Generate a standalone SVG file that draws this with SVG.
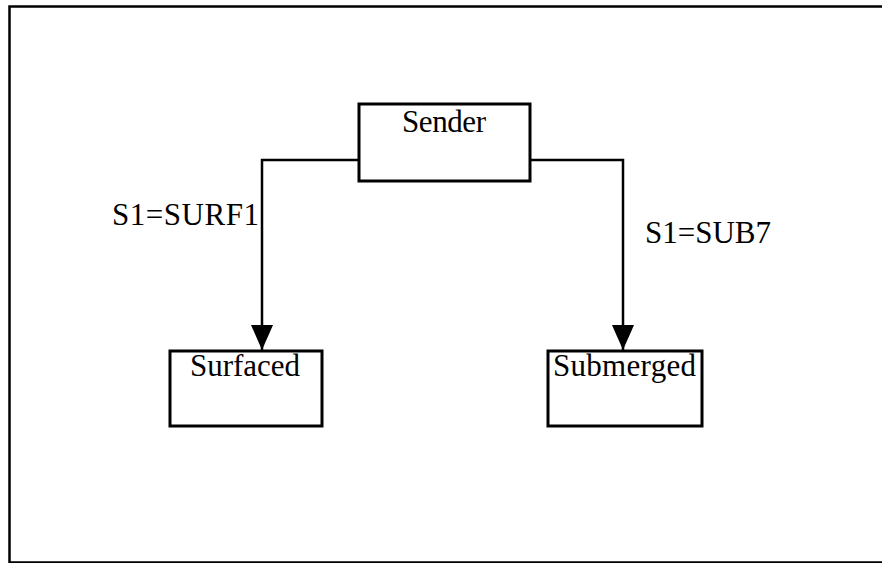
<svg xmlns="http://www.w3.org/2000/svg" width="882" height="563" viewBox="0 0 882 563">
  <defs>
    <style>
      .frame { fill: #ffffff; stroke: #000000; stroke-width: 2.5; }
      .box { fill: #ffffff; stroke: #000000; stroke-width: 3; }
      .wire { fill: none; stroke: #000000; stroke-width: 2.5; }
      .lbl { font-family: "Liberation Serif", "Times New Roman", serif; font-size: 31px; fill: #000000; }
    </style>
    <marker id="arrow" viewBox="0 0 25 22" refX="25" refY="11" markerUnits="userSpaceOnUse" markerWidth="25" markerHeight="22" orient="auto">
      <path d="M0,0 L25,11 L0,22 Z" fill="#000000"/>
    </marker>
  </defs>

  <rect width="882" height="563" fill="#ffffff"/>
  <rect class="frame" x="9.5" y="6.5" width="880" height="556"/>

  <g id="connectors">
    <path class="wire" d="M359,160 H262 V350" marker-end="url(#arrow)"/>
    <path class="wire" d="M530,160 H623 V350" marker-end="url(#arrow)"/>
    <text class="lbl" x="112" y="225" textLength="147" lengthAdjust="spacing">S1=SURF1</text>
    <text class="lbl" x="645" y="243" textLength="126" lengthAdjust="spacing">S1=SUB7</text>
  </g>

  <g id="sender">
    <rect class="box" x="359" y="104" width="171" height="77"/>
    <text class="lbl" x="402" y="132" textLength="84" lengthAdjust="spacing">Sender</text>
  </g>

  <g id="surfaced">
    <rect class="box" x="170" y="351" width="152" height="75"/>
    <text class="lbl" x="190" y="376" textLength="110" lengthAdjust="spacing">Surfaced</text>
  </g>

  <g id="submerged">
    <rect class="box" x="548" y="351" width="154" height="75"/>
    <text class="lbl" x="553" y="376" textLength="143" lengthAdjust="spacing">Submerged</text>
  </g>
</svg>
